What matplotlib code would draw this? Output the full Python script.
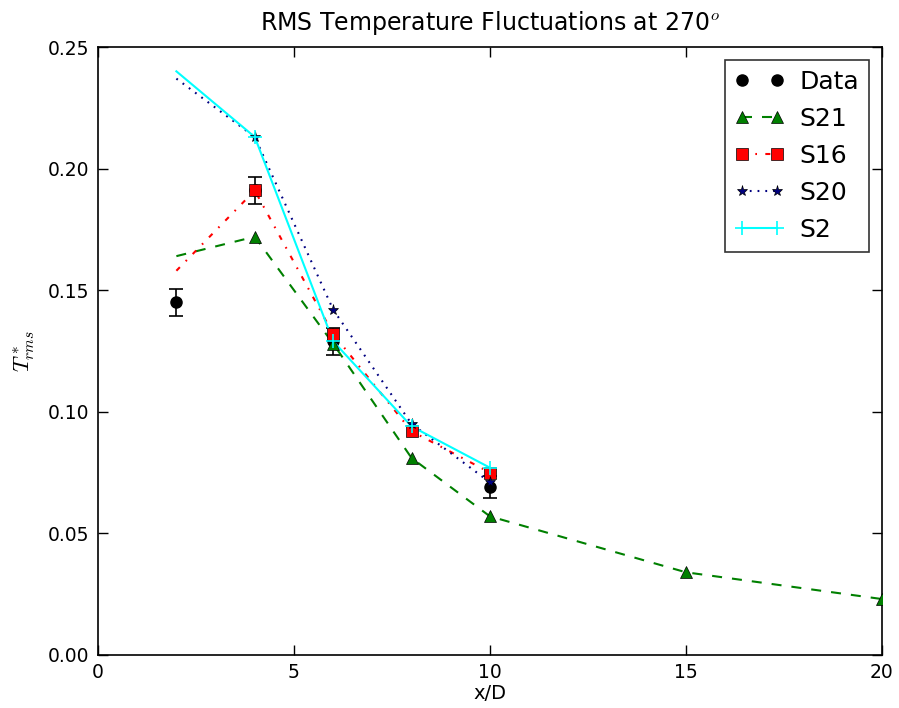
import matplotlib
matplotlib.use("Agg")
import matplotlib.pyplot as plt
from matplotlib.lines import Line2D

# Data
data_x = [2, 4, 6, 10]
data_y = [0.145, 0.191, 0.129, 0.069]
data_err = [0.0055, 0.0055, 0.0055, 0.0045]

s21_x = [2, 4, 6, 8, 10, 15, 20]
s21_y = [0.164, 0.172, 0.128, 0.081, 0.057, 0.034, 0.023]

s16_x = [2, 4, 6, 8, 10]
s16_y = [0.158, 0.191, 0.132, 0.092, 0.075]

s20_x = [2, 4, 6, 8, 10]
s20_y = [0.237, 0.213, 0.142, 0.095, 0.071]

s2_x = [2, 4, 6, 8, 10]
s2_y = [0.240, 0.213, 0.129, 0.094, 0.077]

xticks = [0, 5, 10, 15, 20]
yticks = [0.00, 0.05, 0.10, 0.15, 0.20, 0.25]

plt.rcParams['mathtext.fontset'] = 'cm'
plt.rcParams['font.family'] = 'DejaVu Sans'
plt.rcParams['lines.scale_dashes'] = False
plt.rcParams['lines.dashed_pattern'] = [7.2, 7.2]
plt.rcParams['lines.dashdot_pattern'] = [3.6, 6, 1.2, 6]
plt.rcParams['lines.dotted_pattern'] = [1.3, 4.3]

fig = plt.figure(figsize=(8.99, 7.08), dpi=100, facecolor='white')
ax = fig.add_axes([0.109, 0.0749, 0.872, 0.8587])

ax.errorbar(data_x, data_y, yerr=data_err, fmt='none', ecolor='black',
            capsize=5, elinewidth=1.2, capthick=1.2, zorder=2)
ax.plot(data_x, data_y, 'o', color='black', markersize=8, zorder=3)

series = [
    (s21_x, s21_y, dict(color=(0, 0.5, 0), linestyle='--', marker='^'), 'S21'),
    (s16_x, s16_y, dict(color='red', linestyle='-.', marker='s'), 'S16'),
    (s20_x, s20_y, dict(color='#000080', linestyle=':', marker='*'), 'S20'),
    (s2_x, s2_y, dict(color='cyan', linestyle='-', marker='+'), 'S2'),
]

LW = 1.5
handles = [Line2D([], [], color='black', marker='o', linestyle='none', markersize=8)]
labels = ['Data']
for x, y, st, lab in series:
    is_plus = st['marker'] == '+'
    ax.plot(x, y, color=st['color'], linestyle=st['linestyle'], linewidth=LW, zorder=4)
    ax.plot(x[1:], y[1:], linestyle='none', marker=st['marker'], color=st['color'],
            markeredgecolor=(st['color'] if is_plus else 'black'),
            markeredgewidth=(1.2 if is_plus else 0.5),
            markersize=(10 if is_plus else 8), zorder=5)
    handles.append(Line2D([], [], color=st['color'], linestyle=st['linestyle'], linewidth=LW,
                          marker=st['marker'],
                          markeredgecolor=(st['color'] if is_plus else 'black'),
                          markeredgewidth=(1.2 if is_plus else 0.5),
                          markersize=(10 if is_plus else 8)))
    labels.append(lab)

ax.set_xlim(0, 20)
ax.set_ylim(0, 0.25)
ax.set_xticks(xticks)
ax.set_yticks(yticks)
ax.set_yticklabels([f"{v:.2f}" for v in yticks])
ax.tick_params(direction='in', top=True, right=True, labelsize=13.5, length=7, width=1, pad=6)
for sp in ax.spines.values():
    sp.set_linewidth(1.2)

ax.set_title(r"RMS Temperature Fluctuations at 270$^o$", fontsize=17, pad=12)
ax.set_xlabel("x/D", fontsize=14, labelpad=1)
ax.set_ylabel(r"$T^*_{rms}$", fontsize=16, labelpad=8)

leg = ax.legend(handles, labels, loc='upper right', numpoints=2, fontsize=18,
                fancybox=False, frameon=True, borderaxespad=0.5, borderpad=0.4,
                handlelength=2.0, handletextpad=0.6, labelspacing=0.52)
leg.get_frame().set_edgecolor('black')
leg.get_frame().set_linewidth(1.2)

fig.savefig("out.png", dpi=100, facecolor='white')
